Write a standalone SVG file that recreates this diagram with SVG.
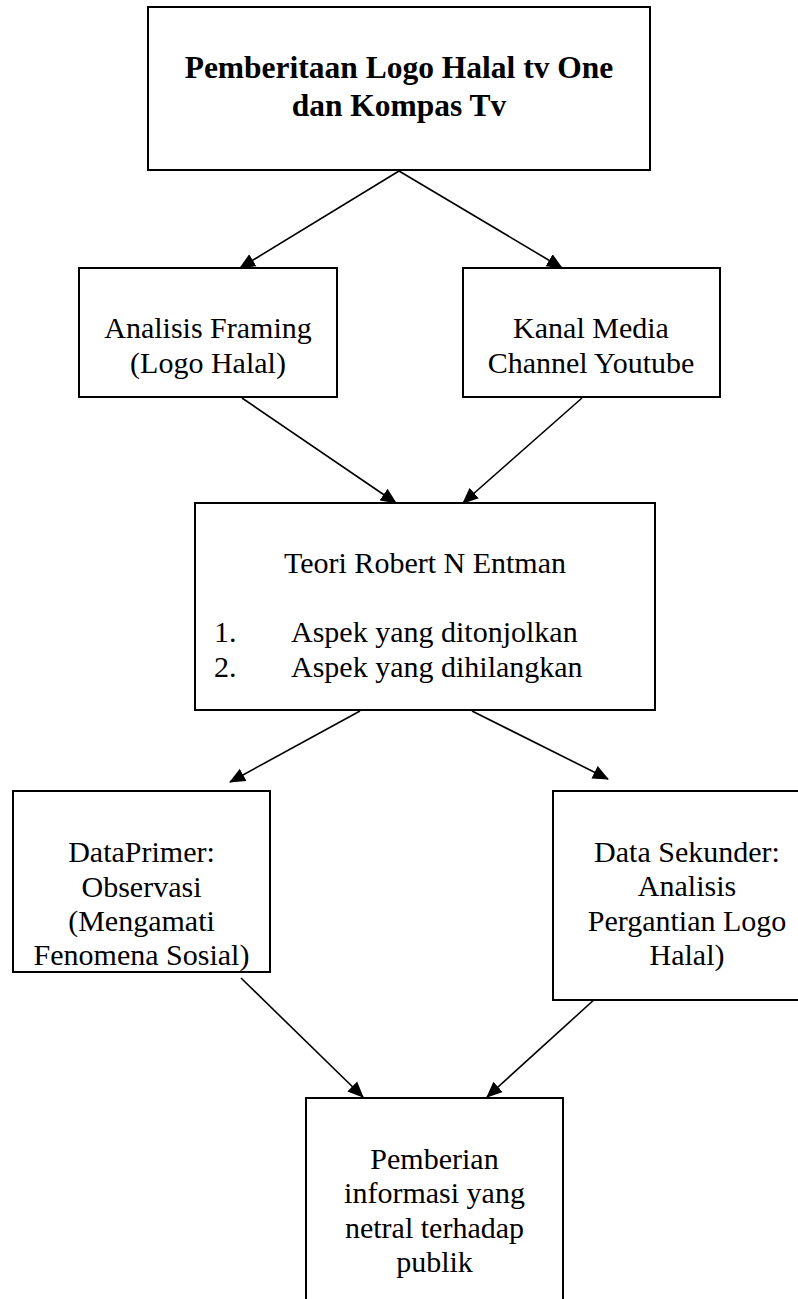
<svg xmlns="http://www.w3.org/2000/svg" width="798" height="1299" viewBox="0 0 798 1299">
<style>
.box{fill:#fff;stroke:#000;stroke-width:2}
.t{font-family:"Liberation Serif","Times New Roman",serif;font-size:30px;fill:#000;text-anchor:middle}
.b{font-family:"Liberation Serif","Times New Roman",serif;font-size:31.5px;font-weight:bold;fill:#000;text-anchor:middle}
.l{font-family:"Liberation Serif","Times New Roman",serif;font-size:30px;fill:#000}
.c{stroke:#000;stroke-width:1.6;fill:none;marker-end:url(#ah)}
</style>
<defs>
<marker id="ah" markerUnits="userSpaceOnUse" markerWidth="16" markerHeight="16" viewBox="0 0 16 16" refX="15" refY="8" orient="auto">
<path d="M0,1 L16,8 L0,15 Z" fill="#000"/>
</marker>
</defs>
<rect width="798" height="1299" fill="#fff"/>
<g id="connectors">
<line class="c" x1="399" y1="171" x2="240" y2="268"/>
<line class="c" x1="399" y1="171" x2="562" y2="268"/>
<line class="c" x1="242" y1="398" x2="396" y2="503"/>
<line class="c" x1="582" y1="398" x2="463" y2="503"/>
<line class="c" x1="360" y1="711" x2="230" y2="782"/>
<line class="c" x1="472" y1="711" x2="608" y2="779"/>
<line class="c" x1="241" y1="978" x2="363" y2="1097"/>
<line class="c" x1="596" y1="998" x2="487" y2="1097"/>
</g>
<g id="n1">
<rect class="box" x="148" y="7" width="502" height="163"/>
<text class="b" x="399" y="78">Pemberitaan Logo Halal tv One</text>
<text class="b" x="399" y="116">dan Kompas Tv</text>
</g>
<g id="n2">
<rect class="box" x="79" y="268" width="258" height="129"/>
<text class="t" x="208" y="338">Analisis Framing</text>
<text class="t" x="208" y="373">(Logo Halal)</text>
</g>
<g id="n3">
<rect class="box" x="463" y="268" width="257" height="129"/>
<text class="t" x="591" y="338">Kanal Media</text>
<text class="t" x="591" y="373">Channel Youtube</text>
</g>
<g id="n4">
<rect class="box" x="195" y="503" width="460" height="207"/>
<text class="t" x="425" y="573">Teori Robert N Entman</text>
<text class="l" x="214" y="642">1.</text>
<text class="l" x="291" y="642">Aspek yang ditonjolkan</text>
<text class="l" x="214" y="677">2.</text>
<text class="l" x="291" y="677">Aspek yang dihilangkan</text>
</g>
<g id="n5">
<rect class="box" x="13" y="791" width="257" height="181"/>
<text class="t" x="141.5" y="862">DataPrimer:</text>
<text class="t" x="141.5" y="897">Observasi</text>
<text class="t" x="141.5" y="931">(Mengamati</text>
<text class="t" x="141.5" y="965">Fenomena Sosial)</text>
</g>
<g id="n6">
<rect class="box" x="553" y="791" width="268" height="209"/>
<text class="t" x="687" y="862">Data Sekunder:</text>
<text class="t" x="687" y="896">Analisis</text>
<text class="t" x="687" y="931">Pergantian Logo</text>
<text class="t" x="687" y="965">Halal)</text>
</g>
<g id="n7">
<rect class="box" x="306" y="1098" width="257" height="215"/>
<text class="t" x="434.5" y="1169">Pemberian</text>
<text class="t" x="434.5" y="1203">informasi yang</text>
<text class="t" x="434.5" y="1238">netral terhadap</text>
<text class="t" x="434.5" y="1272">publik</text>
</g>
</svg>
